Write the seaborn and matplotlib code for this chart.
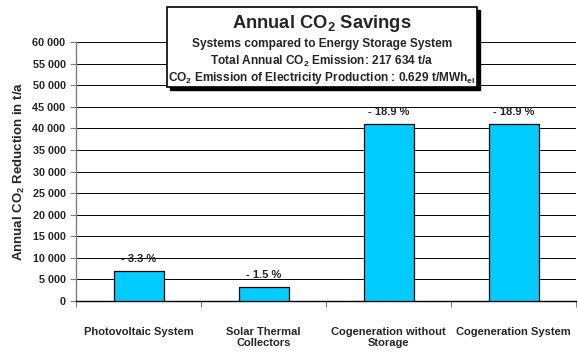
import matplotlib
matplotlib.use("Agg")
import matplotlib.pyplot as plt
import seaborn as sns
import pandas as pd
from matplotlib.patches import Rectangle
from matplotlib.ticker import FuncFormatter, FixedLocator

categories = ["Photovoltaic System", "Solar Thermal\nCollectors",
              "Cogeneration without\nStorage", "Cogeneration System"]
savings = [7050, 3200, 41100, 41100]
pct_labels = ["- 3.3 %", "- 1.5 %", "- 18.9 %", "- 18.9 %"]
y_ticks = list(range(0, 60001, 5000))

sns.set_theme(style="white")
plt.rcParams['font.family'] = ['Liberation Sans', 'DejaVu Sans']
plt.rcParams['font.weight'] = 'bold'
plt.rcParams['mathtext.fontset'] = 'custom'
plt.rcParams['mathtext.rm'] = 'Liberation Sans:bold'
plt.rcParams['mathtext.bf'] = 'Liberation Sans:bold'
plt.rcParams['mathtext.it'] = 'Liberation Sans:bold'

W, H = 578, 356
fig = plt.figure(figsize=(W / 100, H / 100), dpi=100)
fig.patch.set_facecolor("white")
ax = fig.add_axes([76 / W, 1 - 301 / H, 500 / W, 259 / H])
ax.set_facecolor("white")

df = pd.DataFrame({"cat": categories, "val": savings})
sns.barplot(data=df, x="cat", y="val", color="#00CCFF", edgecolor="black",
            linewidth=0.9, width=0.4, saturation=1, ax=ax, zorder=3)

ax.set_xlim(-0.5, 3.5)
ax.set_ylim(0, 60000)
ax.yaxis.set_major_locator(FixedLocator(y_ticks))
ax.yaxis.set_major_formatter(FuncFormatter(lambda v, p: f"{int(v):,}".replace(",", " ")))
for yv in y_ticks[1:]:
    ax.axhline(yv, color="black", lw=0.7, zorder=1)

for s in ["top", "right"]:
    ax.spines[s].set_visible(False)
ax.spines["left"].set_color("#808080")
ax.spines["left"].set_linewidth(1.0)
ax.spines["bottom"].set_color("black")
ax.spines["bottom"].set_linewidth(1.0)

ax.tick_params(axis="y", which="major", length=4.5, width=0.8, color="#808080",
               labelsize=7.8, pad=3, left=True)
ax.set_xticks([-0.5, 0.5, 1.5, 2.5, 3.5])
ax.set_xticklabels([])
ax.set_xticks([0, 1, 2, 3], minor=True)
ax.set_xticklabels(categories, minor=True)
ax.tick_params(axis="x", which="major", length=4, width=0.8, color="#808080", bottom=True)
ax.tick_params(axis="x", which="minor", length=0, pad=19, labelsize=8)
for lab in ax.get_xticklabels(minor=True):
    lab.set_fontweight("bold")
    lab.set_linespacing(1.05)
for lab in ax.get_yticklabels():
    lab.set_fontweight("bold")

ax.set_xlabel("")
ax.set_ylabel("Annual CO$_\\mathbf{2}$ Reduction in t/a", fontsize=9.5,
              fontweight="bold", labelpad=4)

ax.bar_label(ax.containers[0], labels=pct_labels, padding=5, fontsize=8,
             fontweight="bold", zorder=4)

# title box
bx0, by0, bx1, by1 = 167, 7, 477, 87
shadow = Rectangle(((bx0 + 3) / W, 1 - (by1 + 3) / H), (bx1 - bx0) / W, (by1 - by0) / H,
                   transform=fig.transFigure, facecolor="black", edgecolor="black", zorder=10)
box = Rectangle((bx0 / W, 1 - by1 / H), (bx1 - bx0) / W, (by1 - by0) / H,
                transform=fig.transFigure, facecolor="white", edgecolor="black",
                linewidth=1.2, zorder=11)
fig.add_artist(shadow)
fig.add_artist(box)
cx = (bx0 + bx1) / 2 / W
fig.text(cx, 1 - 24 / H, "Annual CO$_\\mathbf{2}$ Savings", ha="center", va="center",
         fontsize=13.2, fontweight="bold", zorder=12)
fig.text(cx, 1 - 44 / H, "Systems compared to Energy Storage System", ha="center",
         va="center", fontsize=8.6, fontweight="bold", zorder=12)
fig.text(cx, 1 - 61 / H, "Total Annual CO$_\\mathbf{2}$ Emission: 217 634 t/a", ha="center",
         va="center", fontsize=8.6, fontweight="bold", zorder=12)
fig.text(cx, 1 - 78 / H, "CO$_\\mathbf{2}$ Emission of Electricity Production : 0.629 t/MWh$_\\mathbf{el}$",
         ha="center", va="center", fontsize=8.6, fontweight="bold", zorder=12)

fig.savefig("out.png", dpi=100)
